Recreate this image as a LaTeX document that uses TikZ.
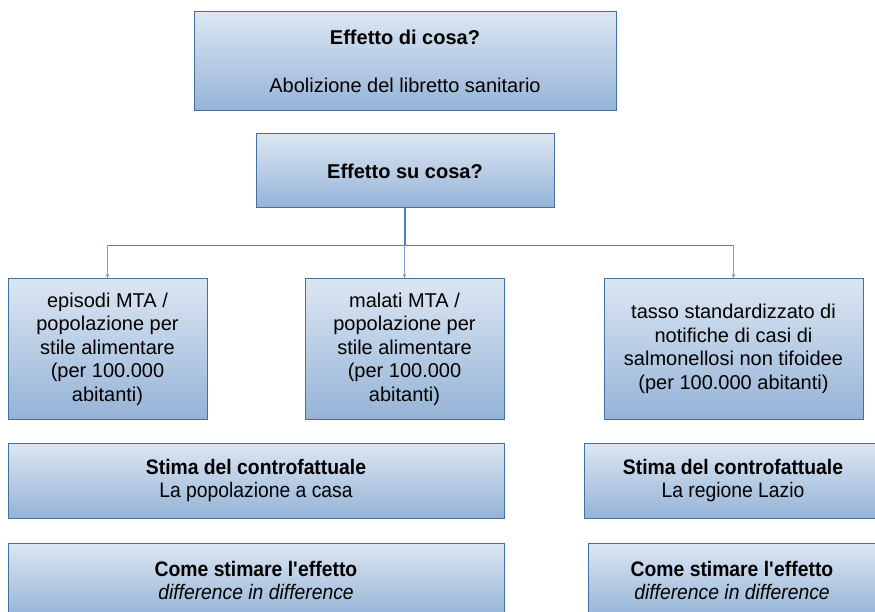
\documentclass[tikz,border=0pt]{standalone}
\usepackage{fontspec}
\setmainfont{Liberation Sans}
\newfontfamily\narrowfont[FakeStretch=0.92]{Liberation Sans}
\usetikzlibrary{arrows.meta}
\definecolor{boxtop}{HTML}{DCE6F2}
\definecolor{boxbot}{HTML}{95B3D7}
\definecolor{boxline}{HTML}{41719C}
\definecolor{linkblue}{HTML}{4F81BD}

\begin{document}
\begin{tikzpicture}
	[ x=1pt, y=-1pt,
	  font=\fontsize{20}{23.5}\selectfont,
	  box/.style={draw=boxline,line width=1pt,top color=boxtop,bottom color=boxbot,align=center,inner sep=0pt},
	  measure/.style={box,minimum width=199pt,minimum height=140pt},
	  wide/.style={box,minimum height=75pt,font=\narrowfont\fontsize{21}{23}\selectfont},
	  trunk/.style={linkblue,line width=1.6pt},
	  branch/.style={linkblue,line width=0.9pt},
	  feed/.style={linkblue!75,line width=1pt,-{Latex[length=4pt,width=4pt]}} ]

	\useasboundingbox (0,0) rectangle (875,612);
	\clip (0,0) rectangle (875,612);

	% top of the scheme
	\node[box,minimum width=422pt,minimum height=99pt] (cause) at (405,61.5) {\textbf{Effetto di cosa?}\\[24.5pt]Abolizione del libretto sanitario};
	\node[box,minimum width=298pt,minimum height=74pt] (effect) at (405,171) {\textbf{Effetto su cosa?}};

	% outcome measures
	\node[measure] (m1) at (107.5,349) {episodi MTA /\\popolazione per\\stile alimentare\\(per 100.000\\abitanti)};
	\node[measure] (m2) at (404.5,349) {malati MTA /\\popolazione per\\stile alimentare\\(per 100.000\\abitanti)};
	\node[measure,minimum width=259pt] (m3) at (733.5,349) {tasso standardizzato di\\notifiche di casi di\\salmonellosi non tifoidee\\(per 100.000 abitanti)};

	% counterfactual and method
	\node[wide,minimum width=496pt] (cf1) at (256,480.5) {\textbf{Stima del controfattuale}\\La popolazione a casa};
	\node[wide,minimum width=298pt] (cf2) at (733,480.5) {\textbf{Stima del controfattuale}\\La regione Lazio};
	\node[wide,minimum width=496pt] (est1) at (256,580.5) {\textbf{Come stimare l\textquotesingle effetto}\\\textit{difference in difference}};
	\node[wide,minimum width=288pt] (est2) at (732,580.5) {\textbf{Come stimare l\textquotesingle effetto}\\\textit{difference in difference}};

	\coordinate (split) at (405,245);
	\draw[trunk] (effect) -- (split);
	\draw[branch] (split -| m1) -- (split -| m3);
	\draw[feed] (split -| m1) -- (m1);
	\draw[feed] (split -| m2) -- (m2);
	\draw[feed] (split -| m3) -- (m3);

\end{tikzpicture}
\end{document}
